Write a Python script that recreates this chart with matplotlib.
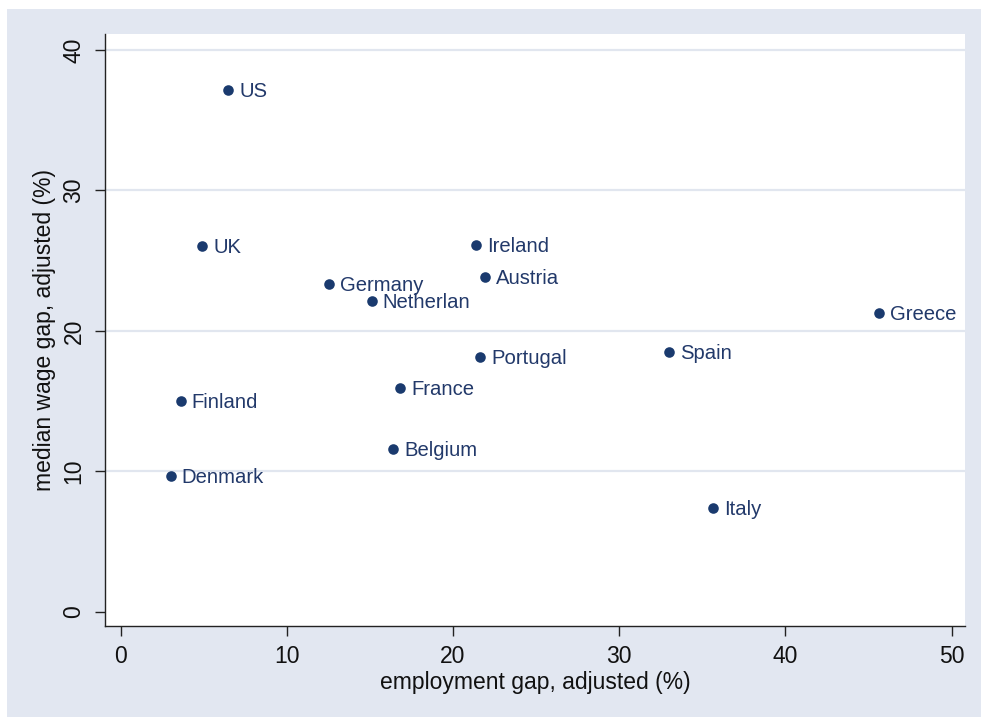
import matplotlib
matplotlib.use("Agg")
import matplotlib.pyplot as plt
from matplotlib.patches import Rectangle

countries = ["US", "UK", "Germany", "Netherlan", "Ireland", "Austria", "Greece",
             "Spain", "Portugal", "France", "Finland", "Belgium", "Denmark", "Italy"]
emp_gap = [6.46, 4.91, 12.54, 15.10, 21.38, 21.92, 45.61,
           33.01, 21.62, 16.82, 3.61, 16.40, 3.01, 35.62]
wage_gap = [37.16, 26.05, 23.31, 22.13, 26.12, 23.86, 21.25,
            18.51, 18.16, 15.91, 15.03, 11.59, 9.64, 7.36]
xticks = [0, 10, 20, 30, 40, 50]
yticks = [0, 10, 20, 30, 40]

plt.rcParams['font.family'] = ['Liberation Sans', 'DejaVu Sans']

W, H = 981, 717
fig = plt.figure(figsize=(W / 100, H / 100), dpi=100, facecolor='white')
bg = '#e2e7f1'
fig.patches.append(Rectangle((7 / W, -0.02), 1.02, 1.02 - 9 / H, transform=fig.transFigure,
                             facecolor=bg, edgecolor='none', zorder=-10))

ax = fig.add_axes([105 / W, 91 / H, (965 - 105) / W, (626 - 34) / H])
ax.set_zorder(1)
ax.set_facecolor('white')
ax.set_xlim(-0.94, 50.8)
ax.set_ylim(-1.02, 41.14)

for yv in yticks[1:]:
    ax.axhline(yv, color='#e1e6ef', lw=1.6, zorder=1)

navy = '#1a3a6e'
ax.scatter(emp_gap, wage_gap, s=58, color=navy, zorder=3, linewidths=0)
for c, x, y in zip(countries, emp_gap, wage_gap):
    ax.annotate(c, (x, y), xytext=(8, -1), textcoords='offset points',
                ha='left', va='center', fontsize=14.6, color='#22396a', zorder=4)

for s in ['top', 'right']:
    ax.spines[s].set_visible(False)
for s in ['left', 'bottom']:
    ax.spines[s].set_color('#222222')
    ax.spines[s].set_linewidth(1.0)

ax.set_xticks(xticks)
ax.set_yticks(yticks)
ax.set_yticklabels([str(v) for v in yticks], rotation=90, va='center')
ax.tick_params(axis='both', length=7, width=1.0, color='#222222', labelsize=16.5,
               labelcolor='#111111', pad=7)

fig.text(535 / W, 1 - 683 / H, "employment gap, adjusted (%)", ha='center', va='center',
         fontsize=16.5, color='#111111', zorder=2)
fig.text(45 / W, 1 - 330 / H, "median wage gap, adjusted (%)", ha='center', va='center',
         rotation=90, fontsize=16.5, color='#111111', zorder=2)

fig.savefig("out.png", dpi=100, facecolor='white')
